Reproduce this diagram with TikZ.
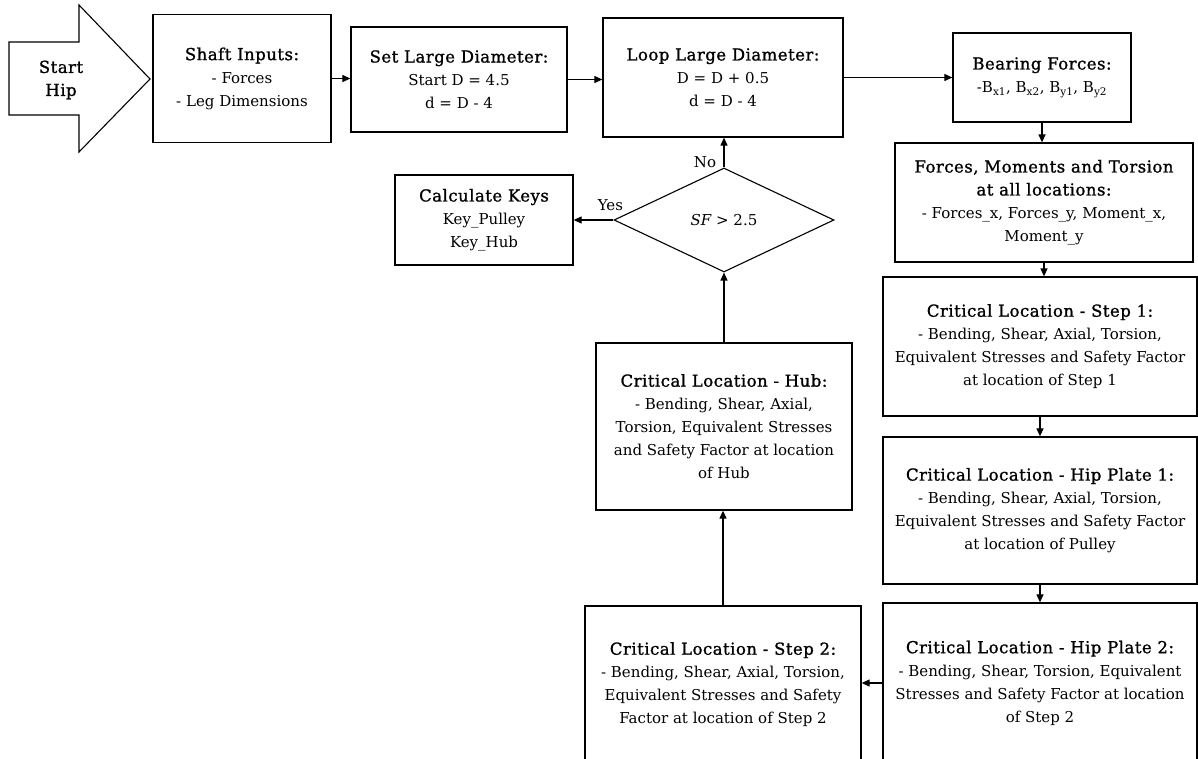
\documentclass[tikz,border=0pt]{standalone}
\usepackage{fontspec}
\setmainfont{DejaVu Serif}
\newfontfamily\headface[FakeBold=1.2,LetterSpace=3]{DejaVu Serif}
\newcommand\head[1]{{\fontsize{16.5}{23}\headface #1}}
\usetikzlibrary{arrows.meta,shapes.geometric,calc}
\begin{document}
\begin{tikzpicture}[x=1pt,y=-1pt,
  font=\fontsize{15}{23}\selectfont,
  every node/.style={align=center},
  box/.style={draw,line width=1.3pt,inner sep=2pt},
  flow/.style={line width=1.2pt,-{Triangle[length=8pt,width=7pt]}},
  lbl/.style={inner sep=1pt}]
\useasboundingbox (0,0) rectangle (1198,759);

% start marker
\draw[line width=1.1pt] (9,42) -- (79,42) -- (79,5) -- (150,79) -- (79,152)
  -- (79,115) -- (9,115) -- cycle;
\node (start) at (61,80) {\head{Start}\\\head{Hip}};

% boxes
\node[box,minimum width=178pt,minimum height=128pt] (shaft) at (242,78.5)
  {\head{Shaft Inputs:}\\- Forces\\- Leg Dimensions};
\node[box,minimum width=216pt,minimum height=105pt] (set) at (459,79.5)
  {\head{Set Large Diameter:}\\Start D = 4.5\\d = D - 4};
\node[box,minimum width=240pt,minimum height=119pt] (loop) at (723,77.5)
  {\head{Loop Large Diameter:}\\D = D + 0.5\\d = D - 4};
\node[box,minimum width=178pt,minimum height=89pt] (bear) at (1042,77.5)
  {\head{Bearing Forces:}\\-B\textsubscript{x1}, B\textsubscript{x2}, B\textsubscript{y1}, B\textsubscript{y2}};
\node[box,minimum width=298pt,minimum height=119pt] (forces) at (1044,202.5)
  {\head{Forces, Moments and Torsion}\\\head{at all locations:}\\- Forces\_x, Forces\_y, Moment\_x,\\Moment\_y};
\node[box,minimum width=314pt,minimum height=139pt] (step1) at (1040,346.5)
  {\head{Critical Location - Step 1:}\\- Bending, Shear, Axial, Torsion,\\Equivalent Stresses and Safety Factor\\at location of Step 1};
\node[box,minimum width=314pt,minimum height=147pt] (hp1) at (1040,510.5)
  {\head{Critical Location - Hip Plate 1:}\\- Bending, Shear, Axial, Torsion,\\Equivalent Stresses and Safety Factor\\at location of Pulley};
\node[box,minimum width=314pt,minimum height=160pt] (hp2) at (1040,683)
  {\head{Critical Location - Hip Plate 2:}\\- Bending, Shear, Torsion, Equivalent\\Stresses and Safety Factor at location\\of Step 2};
\node[box,minimum width=276pt,minimum height=157pt] (step2) at (723,684.5)
  {\head{Critical Location - Step 2:}\\- Bending, Shear, Axial, Torsion,\\Equivalent Stresses and Safety\\Factor at location of Step 2};
\node[box,minimum width=256pt,minimum height=167pt] (hub) at (724,426.5)
  {\head{Critical Location - Hub:}\\- Bending, Shear, Axial,\\Torsion, Equivalent Stresses\\and Safety Factor at location\\of Hub};
\node[box,minimum width=178pt,minimum height=90pt] (keys) at (484,220)
  {\head{Calculate Keys}\\Key\_Pulley\\Key\_Hub};
\node[draw,line width=1.1pt,diamond,inner sep=0pt,minimum width=220pt,
  minimum height=104pt] (sf) at (724,220) {\itshape SF\upshape{} > 2.5};

% connectors
\draw[flow] (shaft.east) -- (shaft.east -| set.west);
\draw[flow] (set.east) -- (set.east -| loop.west);
\draw[flow] (loop.east) -- (loop.east -| bear.west);
\draw[flow] (bear.south) -- (bear.south |- forces.north);
\draw[flow] (forces.south) -- (forces.south |- step1.north);
\draw[flow] (step1.south) -- (step1.south |- hp1.north);
\draw[flow] (hp1.south) -- (hp1.south |- hp2.north);
\draw[flow] (hp2.west) -- (hp2.west -| step2.east);
\draw[flow] (step2.north) -- (step2.north |- hub.south);
\draw[flow] (hub.north) -- (hub.north |- sf.south);
\draw[flow] (sf.north) -- (sf.north |- loop.south);
\draw[flow] (sf.west) -- (sf.west -| keys.east);

% decision labels
\node[lbl] (no) at ($(sf.north)+(-19,-5)$) {No};
\node[lbl] (yes) at ($(sf.west)+(-3,-15)$) {Yes};
\end{tikzpicture}
\end{document}
